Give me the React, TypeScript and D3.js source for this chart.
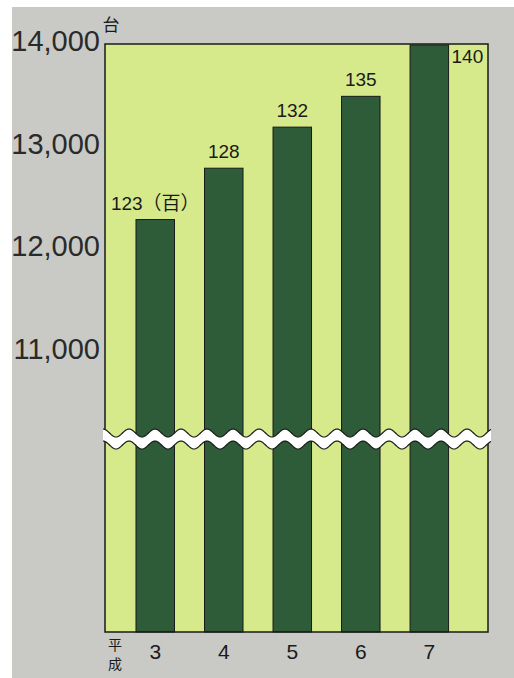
import React, { useEffect, useRef } from "react";
import * as d3 from "d3";

const years = ["3", "4", "5", "6", "7"];
const counts = [12300, 12800, 13200, 13500, 14000];
const valueLabels = ["123（百）", "128", "132", "135", "140"];
const yTicks = [11000, 12000, 13000, 14000];

const W = 514;
const H = 678;
const plot = { left: 105, right: 488, top: 44, bottom: 632 };
const breakY = 439;

const colors = {
  page: "#c9c9c6",
  plot: "#d7ea8b",
  bar: "#2e5c39",
  ink: "#1a1a1a",
};

const App: React.FC = () => {
  const ref = useRef<SVGSVGElement | null>(null);

  useEffect(() => {
    if (!ref.current) return;
    const svg = d3.select(ref.current);
    svg.selectAll("*").remove();

    const x = d3
      .scaleBand<string>()
      .domain(years)
      .range([plot.left, plot.right])
      .paddingInner(0.438)
      .paddingOuter(0.514)
      .align(0.44);

    // upper part of the broken axis
    const y = d3.scaleLinear().domain([11000, 14000]).range([353, 45]);

    svg.append("rect").attr("x", 12).attr("y", 7).attr("width", W - 12).attr("height", H - 7).attr("fill", colors.page);

    svg
      .append("rect")
      .attr("x", plot.left)
      .attr("y", plot.top)
      .attr("width", plot.right - plot.left)
      .attr("height", plot.bottom - plot.top)
      .attr("fill", colors.plot);

    // bars
    svg
      .append("g")
      .selectAll("rect")
      .data(counts)
      .enter()
      .append("rect")
      .attr("x", (_, i) => x(years[i]) || 0)
      .attr("y", (d) => Math.max(plot.top, y(d)))
      .attr("width", x.bandwidth())
      .attr("height", (d) => plot.bottom - Math.max(plot.top, y(d)))
      .attr("fill", colors.bar)
      .attr("stroke", colors.ink)
      .attr("stroke-width", 1);

    // frame
    svg
      .append("rect")
      .attr("x", plot.left)
      .attr("y", plot.top)
      .attr("width", plot.right - plot.left)
      .attr("height", plot.bottom - plot.top)
      .attr("fill", "none")
      .attr("stroke", colors.ink)
      .attr("stroke-width", 1.5);

    // wavy break band
    const x0 = plot.left - 2;
    const x1 = plot.right + 3;
    const period = 26;
    const amp = 4;
    const top: [number, number][] = [];
    const bot: [number, number][] = [];
    for (let px = x0; px <= x1; px += 1) {
      const s = Math.sin(((px - x0) / period) * Math.PI * 2 + Math.PI / 2);
      top.push([px, breakY - 6 - amp * s]);
      bot.push([px, breakY + 6 - amp * s]);
    }
    const line = d3.line();
    svg
      .append("path")
      .attr("d", (line(top) || "") + "L" + bot.slice().reverse().map((p) => p.join(",")).join("L") + "Z")
      .attr("fill", "#ffffff");
    [top, bot].forEach((pts) =>
      svg
        .append("path")
        .attr("d", line(pts) || "")
        .attr("fill", "none")
        .attr("stroke", colors.ink)
        .attr("stroke-width", 1.2)
    );

    const font = "'Liberation Sans', Arial, 'Noto Sans CJK JP', sans-serif";

    // y tick labels
    svg
      .append("g")
      .selectAll("text")
      .data(yTicks)
      .enter()
      .append("text")
      .attr("x", 100)
      .attr("y", (d) => y(d) + 6)
      .attr("text-anchor", "end")
      .attr("font-family", font)
      .attr("font-size", 29)
      .attr("fill", "#2a2a2a")
      .text((d) => d3.format(",")(d));

    svg
      .append("text")
      .attr("x", 111)
      .attr("y", 31)
      .attr("text-anchor", "middle")
      .attr("font-family", "'Noto Sans CJK JP', sans-serif")
      .attr("font-size", 17)
      .attr("fill", colors.ink)
      .text("台");

    // value labels
    svg
      .append("g")
      .selectAll("text")
      .data(counts)
      .enter()
      .append("text")
      .attr("x", (_, i) => {
        const bx = x(years[i]) || 0;
        return i === counts.length - 1 ? bx + x.bandwidth() + 3 : bx + x.bandwidth() / 2;
      })
      .attr("y", (d, i) => (i === counts.length - 1 ? Math.max(plot.top, y(d)) + 18 : y(d) - 10))
      .attr("text-anchor", (_, i) => (i === counts.length - 1 ? "start" : "middle"))
      .attr("font-family", font)
      .attr("font-size", 19)
      .attr("fill", colors.ink)
      .text((_, i) => valueLabels[i]);

    // x category labels
    svg
      .append("g")
      .selectAll("text")
      .data(years)
      .enter()
      .append("text")
      .attr("x", (d) => (x(d) || 0) + x.bandwidth() / 2)
      .attr("y", 659)
      .attr("text-anchor", "middle")
      .attr("font-family", font)
      .attr("font-size", 21)
      .attr("fill", colors.ink)
      .text((d) => d);

    const era = svg
      .append("text")
      .attr("text-anchor", "middle")
      .attr("font-family", "'Noto Sans CJK JP', sans-serif")
      .attr("font-size", 14)
      .attr("fill", colors.ink);
    era.append("tspan").attr("x", 115).attr("y", 650).text("平");
    era.append("tspan").attr("x", 115).attr("y", 669).text("成");
  }, []);

  return (
    <svg
      ref={ref}
      width={W}
      height={H}
      style={{ position: "absolute", left: 0, top: 0, background: "#ffffff" }}
    />
  );
};

export default App;
